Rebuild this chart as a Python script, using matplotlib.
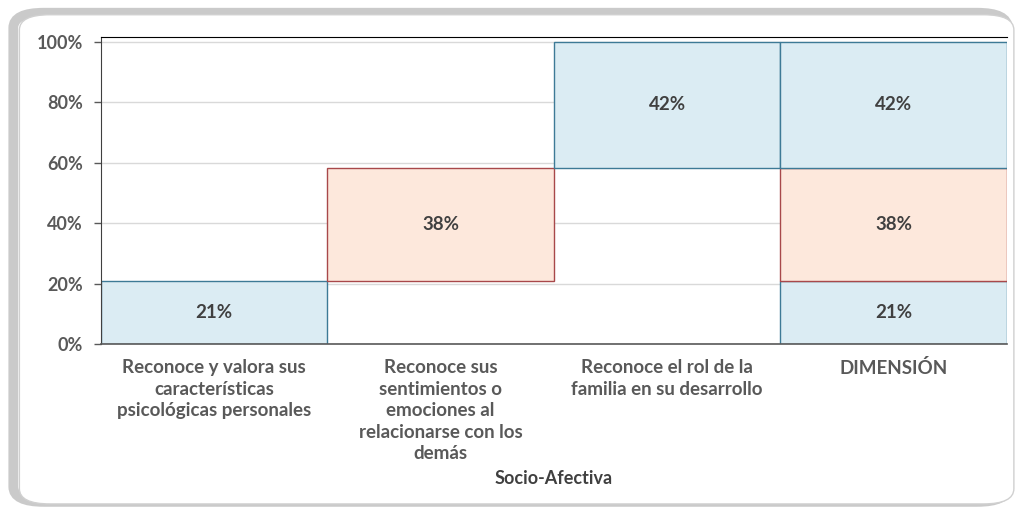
import matplotlib.pyplot as plt
from matplotlib.patches import FancyBboxPatch
import numpy as np

# datos
categorias = ["Reconoce y valora sus\ncaracterísticas\npsicológicas personales",
              "Reconoce sus\nsentimientos o\nemociones al\nrelacionarse con los\ndemás",
              "Reconoce el rol de la\nfamilia en su desarrollo",
              "DIMENSIÓN"]
base = [0, 20.8, 58.3, 0]          # serie invisible (cascada)
serie1 = [20.8, 0, 0, 20.8]
serie2 = [0, 37.5, 0, 37.5]
serie3 = [0, 0, 41.7, 41.7]
eje_x = "Socio-Afectiva"
yticks = [0, 20, 40, 60, 80, 100]

plt.rcParams['font.family'] = ['Lato', 'DejaVu Sans']
plt.rcParams['font.weight'] = 'bold'

fig = plt.figure(figsize=(10.2, 5.08), dpi=100)

# marco redondeado con sombra
sombra = FancyBboxPatch((0.013, 0.012), 0.975, 0.963, boxstyle="round,pad=0,rounding_size=0.03",
                        transform=fig.transFigure, facecolor='none', edgecolor='#a8a8a8',
                        linewidth=7, alpha=0.6, zorder=-2)
marco = FancyBboxPatch((0.019, 0.008), 0.975, 0.963, boxstyle="round,pad=0,rounding_size=0.03",
                       transform=fig.transFigure, facecolor='white', edgecolor='#d0d0d0',
                       linewidth=1, zorder=-1)
fig.patches.append(sombra)
fig.patches.append(marco)

ax = fig.add_axes([0.099, 0.323, 0.888, 0.605])
ax.set_zorder(1)
x = np.arange(len(categorias))

azul = '#dbecf3'
azul_borde = '#3d7a96'
rosa = '#fde8dc'
rosa_borde = '#a8484a'

b = np.array(base, dtype=float)
for vals, fc, ec in [(serie1, azul, azul_borde), (serie2, rosa, rosa_borde), (serie3, azul, azul_borde)]:
    v = np.array(vals, dtype=float)
    mask = v > 0
    ax.bar(x[mask], v[mask], width=1.0, bottom=b[mask], color=fc, edgecolor=ec,
           linewidth=1, zorder=2)
    for xi, vi, bi in zip(x[mask], v[mask], b[mask]):
        ax.text(xi, bi + vi / 2, f"{round(vi)}%", ha='center', va='center',
                fontsize=13.5, color='#404040', fontweight='bold', zorder=3)
    b = b + v

ax.set_xlim(-0.5, 3.5)
ax.set_ylim(0, 101.8)
ax.set_yticks(yticks)
ax.set_yticklabels([f"{t}%" for t in yticks])
ax.yaxis.grid(True, color='#d9d9d9', linewidth=1, zorder=0)
ax.set_axisbelow(True)

ax.set_xticks(x)
ax.set_xticklabels(categorias, va='top', linespacing=1.32)
ax.tick_params(axis='x', length=0, pad=11, labelsize=13.5, labelcolor='#595959')
ax.tick_params(axis='y', length=5, width=1, color='#595959', pad=8, labelsize=13, labelcolor='#595959')
ax.set_xlabel(eje_x, fontsize=13, color='#404040', fontweight='bold', labelpad=6)

ax.spines['right'].set_visible(False)
ax.spines['top'].set_color('black')
ax.spines['left'].set_color('#404040')
ax.spines['bottom'].set_color('#595959')
ax.spines['bottom'].set_linewidth(1.2)

fig.savefig("out.png", dpi=100)
